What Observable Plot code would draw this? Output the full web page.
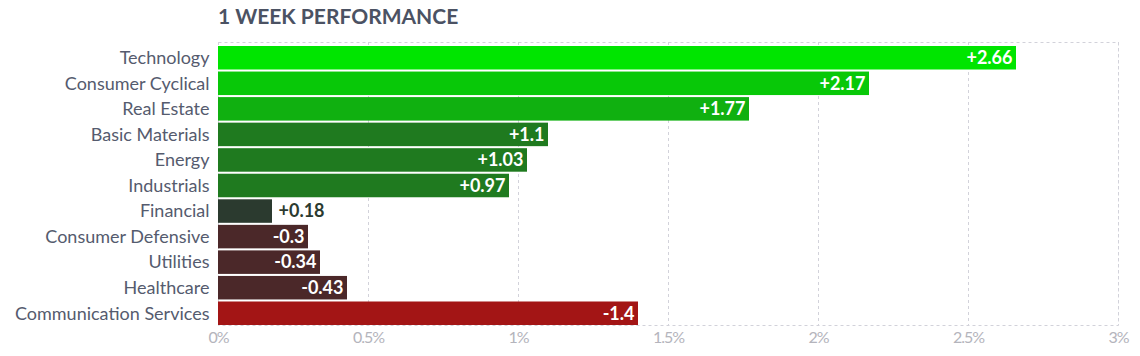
<!DOCTYPE html>
<html>
<head>
<meta charset="utf-8">
<script src="https://cdn.jsdelivr.net/npm/d3@7"></script>
<script src="https://cdn.jsdelivr.net/npm/@observablehq/plot@0.6"></script>
<style>
  html, body { margin: 0; padding: 0; background: #fff; }
  body { width: 1140px; height: 356px; overflow: hidden; font-family: Lato, "Open Sans", sans-serif; }
  #title { height: 30px; box-sizing: border-box; padding-left: 218px; padding-top: 4px;
           font-size: 21px; font-weight: bold; color: #4b5263; line-height: 24px; }
  #chart svg { display: block; }
  g[aria-label="inside-values"] text { text-shadow: 1px 1px 1px rgba(0,0,0,0.55); letter-spacing: -0.5px; }
  g[aria-label="outside-values"] text { letter-spacing: -0.5px; }
  g[aria-label="x-axis tick label"] text { letter-spacing: -1px; }
</style>
</head>
<body>
<div id="title">1 WEEK PERFORMANCE</div>
<div id="chart"></div>
<script>
const categories = ["Technology", "Consumer Cyclical", "Real Estate", "Basic Materials", "Energy",
  "Industrials", "Financial", "Consumer Defensive", "Utilities", "Healthcare", "Communication Services"];
const values = [2.66, 2.17, 1.77, 1.1, 1.03, 0.97, 0.18, -0.3, -0.34, -0.43, -1.4];
const xTicks = [0, 0.5, 1, 1.5, 2, 2.5, 3];
const colorBreaks = [-1, 0, 0.5, 1.5, 2, 2.5];
const colorRange = ["#a31515", "#4b2829", "#2b3a2f", "#1f7a1f", "#10b010", "#08c808", "#00e500"];

const data = categories.map((name, i) => ({name, value: values[i], abs: Math.abs(values[i])}));
const fmt = v => (v > 0 ? "+" : "") + v;
const inside = data.filter(d => d.abs >= 0.25);
const outside = data.filter(d => d.abs < 0.25);

const chart = Plot.plot({
  width: 1140,
  height: 326,
  marginTop: 12,
  marginBottom: 31,
  marginLeft: 218,
  marginRight: 22,
  style: {fontFamily: "Lato, 'Open Sans', sans-serif", background: "#fff"},
  x: {domain: [0, 3], ticks: xTicks},
  y: {domain: categories, range: [16, 295], paddingInner: 0.08, paddingOuter: 0, round: false},
  color: {type: "threshold", domain: colorBreaks, range: colorRange},
  marks: [
    Plot.frame({stroke: "#d2d2da", strokeDasharray: "3,3"}),
    Plot.ruleX(xTicks, {stroke: "#d2d2da", strokeDasharray: "3,3"}),
    Plot.barX(data, {y: "name", x: "abs", fill: "value"}),
    Plot.text(inside, {y: "name", x: "abs", text: d => fmt(d.value), textAnchor: "end", dx: -4,
      fill: "#fff", fontWeight: "bold", fontSize: 18, ariaLabel: "inside-values"}),
    Plot.text(outside, {y: "name", x: "abs", text: d => fmt(d.value), textAnchor: "start", dx: 6,
      fill: "#2b3a2f", fontWeight: "bold", fontSize: 18, ariaLabel: "outside-values"}),
    Plot.axisY({tickSize: 0, tickPadding: 9, fontSize: 18, fill: "#555b6e", label: null}),
    Plot.axisX({ticks: xTicks, tickSize: 0, tickPadding: 6, fontSize: 16, fill: "#b4b4bc",
      tickFormat: d => d + "%", label: null})
  ]
});
document.getElementById("chart").appendChild(chart);
</script>
</body>
</html>
